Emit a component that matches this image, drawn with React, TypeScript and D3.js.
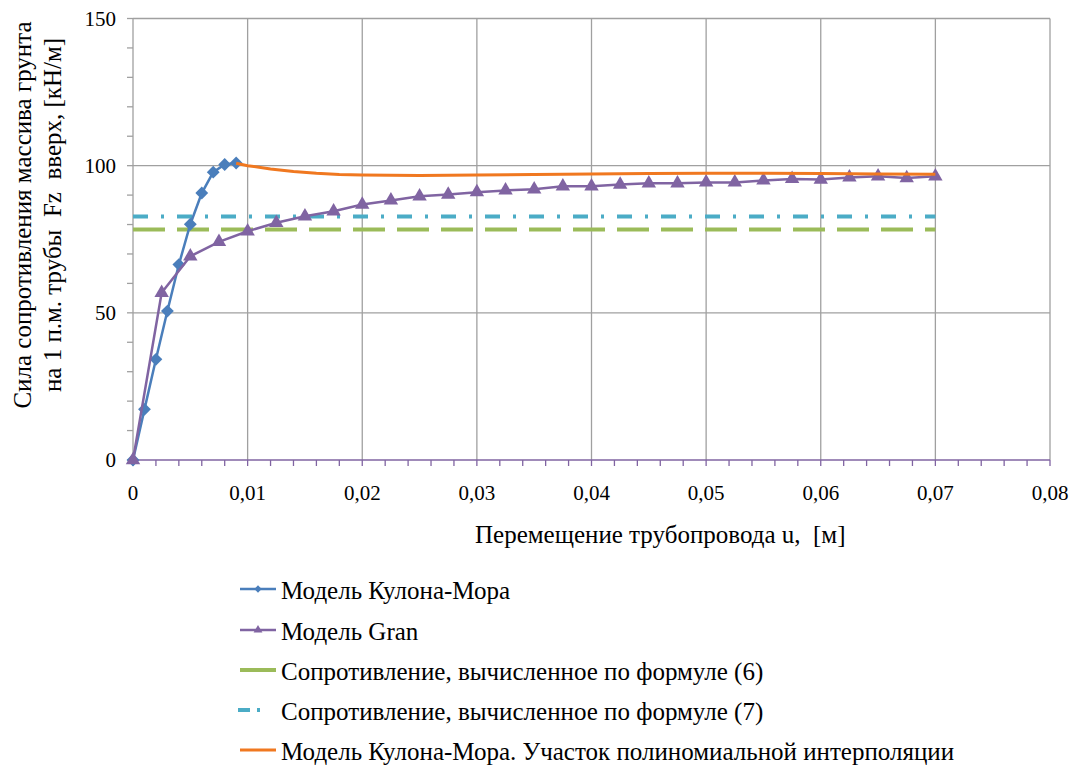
import React from "react";
import * as d3 from "d3";

const moharX = [0, 0.001, 0.002, 0.003, 0.004, 0.005, 0.006, 0.007, 0.008, 0.009];
const moharY = [0, 17.2, 34.2, 50.6, 66.4, 80.1, 90.7, 97.8, 100.4, 100.9];

const granX = [0, 0.0025, 0.005, 0.0075, 0.01, 0.0125, 0.015, 0.0175, 0.02, 0.0225, 0.025, 0.0275, 0.03, 0.0325, 0.035, 0.0375, 0.04, 0.0425, 0.045, 0.0475, 0.05, 0.0525, 0.055, 0.0575, 0.06, 0.0625, 0.065, 0.0675, 0.07];
const granY = [0, 56.8, 69.2, 74.1, 77.7, 80.6, 82.8, 84.5, 86.8, 88.2, 89.6, 90.2, 91.0, 91.6, 92.0, 93.0, 93.0, 93.6, 94.0, 94.0, 94.3, 94.3, 95.0, 95.5, 95.3, 96.0, 96.4, 95.8, 96.4];

const polyX = [0.009, 0.01, 0.012, 0.014, 0.016, 0.018, 0.02, 0.025, 0.03, 0.035, 0.04, 0.045, 0.05, 0.055, 0.06, 0.065, 0.07];
const polyY = [100.8, 100.0, 98.9, 98.0, 97.4, 97.0, 96.8, 96.7, 96.8, 97.0, 97.2, 97.3, 97.4, 97.4, 97.3, 97.2, 97.1];

const formula6X = [0, 0.07];
const formula6Y = [78.3, 78.3];
const formula7X = [0, 0.07];
const formula7Y = [82.7, 82.7];

const xMajorTicks = [0, 0.01, 0.02, 0.03, 0.04, 0.05, 0.06, 0.07, 0.08];
const yMajorTicks = [0, 50, 100, 150];

const legendLabels = [
  "Модель Кулона-Мора",
  "Модель Gran",
  "Сопротивление, вычисленное по формуле (6)",
  "Сопротивление, вычисленное по формуле (7)",
  "Модель Кулона-Мора. Участок полиномиальной интерполяции",
];

const C_BLUE = "#4a7ebb";
const C_PURPLE = "#8064a2";
const C_GREEN = "#9bbb59";
const C_CYAN = "#4bacc6";
const C_ORANGE = "#f07820";
const C_GRID = "#a0a0a0";
const FONT = '"Liberation Serif", "Times New Roman", serif';

export default function App() {
  const x = d3.scaleLinear().domain([0, 0.08]).range([133, 1050]);
  const y = d3.scaleLinear().domain([0, 150]).range([460, 18.5]);

  const line = d3
    .line<[number, number]>()
    .x((d) => x(d[0]))
    .y((d) => y(d[1]));

  const pts = (xs: number[], ys: number[]) => xs.map((v, i) => [v, ys[i]] as [number, number]);

  const diamond = d3.symbol().type(d3.symbolDiamond2).size(105)()!;
  const triangle = d3.symbol().type(d3.symbolTriangle).size(90)()!;
  const diamondSmall = d3.symbol().type(d3.symbolDiamond2).size(34)()!;
  const triangleSmall = d3.symbol().type(d3.symbolTriangle).size(34)()!;

  const xMinor = d3.range(0, 41).map((i) => i * 0.002);
  const yMinor = d3.range(0, 16).map((i) => i * 10);

  const legendY = [591, 632, 672, 712, 752];
  const txt = { fontFamily: FONT };

  return (
    <svg
      width={1071}
      height={769}
      style={{ position: "absolute", left: 0, top: 0, background: "#fff", fontFamily: FONT }}
    >
      <rect x={0} y={0} width={1071} height={769} fill="#fff" />
      {xMajorTicks.slice(1).map((t) => (
        <line key={"gx" + t} x1={x(t)} x2={x(t)} y1={y(150)} y2={y(0)} stroke={C_GRID} strokeWidth={1.3} />
      ))}
      {yMajorTicks.slice(1).map((t) => (
        <line key={"gy" + t} x1={x(0)} x2={x(0.08)} y1={y(t)} y2={y(t)} stroke={C_GRID} strokeWidth={1.3} />
      ))}
      <line x1={x(0)} x2={x(0)} y1={y(150)} y2={y(0)} stroke={C_GRID} strokeWidth={1.3} />
      {yMinor.map((t) => (
        <line key={"yt" + t} x1={x(0) - 6} x2={x(0)} y1={y(t)} y2={y(t)} stroke={C_GRID} strokeWidth={1.3} />
      ))}
      {yMajorTicks.map((t) => (
        <text key={"yl" + t} x={116} y={y(t) + 7} textAnchor="end" fontSize={21} fill="#000" style={txt}>
          {t}
        </text>
      ))}
      {xMinor.map((t, i) => (
        <line key={"xt" + i} x1={x(t)} x2={x(t)} y1={y(0)} y2={y(0) + 6} stroke={C_PURPLE} strokeWidth={1.3} />
      ))}
      <line x1={x(0)} x2={x(0.08)} y1={y(0)} y2={y(0)} stroke={C_PURPLE} strokeWidth={1.6} />
      {xMajorTicks.map((t) => (
        <text key={"xl" + t} x={x(t)} y={500} textAnchor="middle" fontSize={21} fill="#000" style={txt}>
          {t === 0 ? "0" : d3.format(".2f")(t).replace(".", ",")}
        </text>
      ))}
      <text x={475} y={543} fontSize={25} fill="#000" xmlSpace="preserve" style={txt}>
        Перемещение трубопровода u,  [м]
      </text>
      <g transform="translate(31,215) rotate(-90)">
        <text x={0} y={0} textAnchor="middle" fontSize={25} fill="#000" style={txt}>
          Сила сопротивления массива грунта
        </text>
        <text x={0} y={30} textAnchor="middle" fontSize={25} fill="#000" xmlSpace="preserve" style={txt}>
          на 1 п.м. трубы  Fz  вверх, [кН/м]
        </text>
      </g>

      <path d={line(pts(formula6X, formula6Y))!} fill="none" stroke={C_GREEN} strokeWidth={4} strokeDasharray="32 12" />
      <path d={line(pts(formula7X, formula7Y))!} fill="none" stroke={C_CYAN} strokeWidth={4} strokeDasharray="15 13 3 13" />

      <path d={line(pts(moharX, moharY))!} fill="none" stroke={C_BLUE} strokeWidth={2.5} />
      {moharX.map((v, i) => (
        <path key={"m" + i} d={diamond} transform={`translate(${x(v)},${y(moharY[i])})`} fill={C_BLUE} />
      ))}

      <path d={line(pts(granX, granY))!} fill="none" stroke={C_PURPLE} strokeWidth={2.5} />
      {granX.map((v, i) => (
        <path key={"g" + i} d={triangle} transform={`translate(${x(v)},${y(granY[i])})`} fill={C_PURPLE} />
      ))}

      <path d={line(pts(polyX, polyY))!} fill="none" stroke={C_ORANGE} strokeWidth={3} />

      <g>
        <line x1={240} x2={276} y1={legendY[0] - 2} y2={legendY[0] - 2} stroke={C_BLUE} strokeWidth={2.5} />
        <path d={diamondSmall} transform={`translate(258,${legendY[0] - 2})`} fill={C_BLUE} />
        <line x1={240} x2={276} y1={legendY[1] - 2} y2={legendY[1] - 2} stroke={C_PURPLE} strokeWidth={2.5} />
        <path d={triangleSmall} transform={`translate(258,${legendY[1] - 2})`} fill={C_PURPLE} />
        <line x1={240} x2={276} y1={legendY[2] - 2} y2={legendY[2] - 2} stroke={C_GREEN} strokeWidth={4} />
        <line x1={238} x2={250} y1={legendY[3] - 2} y2={legendY[3] - 2} stroke={C_CYAN} strokeWidth={4} />
        <line x1={257} x2={260} y1={legendY[3] - 2} y2={legendY[3] - 2} stroke={C_CYAN} strokeWidth={4} />
        <line x1={240} x2={276} y1={legendY[4] - 2} y2={legendY[4] - 2} stroke={C_ORANGE} strokeWidth={3} />
        {legendLabels.map((l, i) => (
          <text key={"lg" + i} x={281} y={legendY[i] + 8} fontSize={25} fill="#000" style={txt}>
            {l}
          </text>
        ))}
      </g>
    </svg>
  );
}
